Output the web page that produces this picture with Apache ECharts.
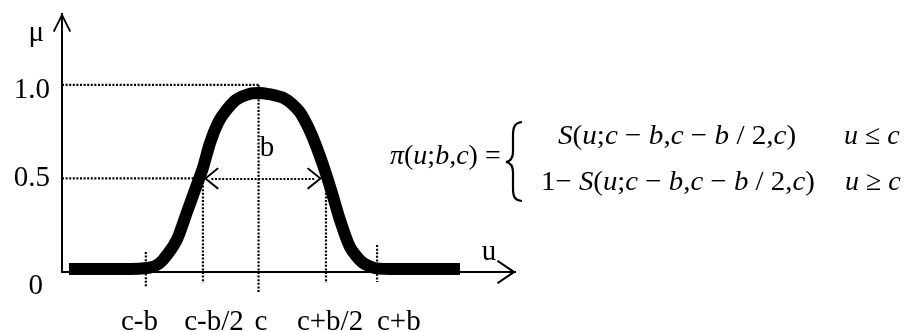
<!DOCTYPE html>
<html>
<head>
<meta charset="utf-8">
<script src="https://cdn.jsdelivr.net/npm/echarts@6/dist/echarts.min.js"></script>
<style>
  html, body { margin: 0; padding: 0; background: #fff; }
  #chart { width: 906px; height: 332px; }
</style>
</head>
<body>
<div id="chart"></div>
<script>
// Membership curve of the pi-function, u measured in units of b with c at 0
const curveU  = [-1.64, -1.11, -0.964, -0.895, -0.827, -0.708, -0.622, -0.550, -0.481, -0.420, -0.351, -0.290, -0.196,
                 -0.074, 0.003, 0.073, 0.220, 0.349, 0.420, 0.488, 0.566, 0.635, 0.704, 0.790, 0.894, 1.007, 1.223, 1.742];
const curveMu = [0.016, 0.016, 0.021, 0.032, 0.064, 0.171, 0.315, 0.438, 0.556, 0.689, 0.796, 0.855, 0.919,
                 0.952, 0.956, 0.952, 0.928, 0.860, 0.785, 0.689, 0.556, 0.422, 0.278, 0.134, 0.053, 0.021, 0.016, 0.016];

// Marked points on the u axis: c-b, c-b/2, c, c+b/2, c+b
const uTicks      = [-0.975, -0.481, 0, 0.583, 1.025];
const guideTop    = [0.107, 0.5, 1.0, 0.5, 0.144];
const guideBottom = [-0.080, -0.059, -0.112, -0.059, -0.053];
const uLabels     = ['c-b', 'c-b/2', 'c', 'c+b/2', 'c+b'];
const uLabelAt    = [-1.03, -0.386, 0.021, 0.618, 1.213];

// Membership levels on the mu axis
const muLevels = [0, 0.5, 1.0];
const muLabels = ['0', '0.5', '1.0'];

// Width b shown between the two crossings of the 0.5 level
const widthTips = [-0.473, 0.548];

const U_MIN = -1.7, U_MAX = 2.14, MU_MAX = 1.33;
const serif = '"Liberation Serif", "Times New Roman", serif';
const INK = '#000';

const vArrow = 'path://M9,0 L18,18 L16.6,19.2 L9,4 L1.4,19.2 L0,18 Z M8,0 L10,0 L10,20 L8,20 Z';
const hArrow = 'path://M12,0 L24,18 L22.6,19.2 L12,4 L1.4,19.2 L0,18 Z M11,0 L13,0 L13,20 L11,20 Z';
const openHead = 'path://M11,0 L22,13.6 L20.6,15 L11,3 L1.4,15 L0,13.6 Z';
const headInset = 0.065;

const dottedStyle = { color: '#000', width: 2.2, type: [2, 1.6] };
function dotted(points, extra) {
  return Object.assign({
    type: 'line', data: points, symbol: 'none', silent: true, clip: false,
    lineStyle: dottedStyle, z: 3, animation: false
  }, extra || {});
}

const series = [];
uTicks.forEach((u, i) => series.push(dotted([[u, guideTop[i]], [u, guideBottom[i]]])));
series.push(dotted([[U_MIN, 1.0], [uTicks[2], 1.0]]));
series.push(dotted([[U_MIN, 0.5], [widthTips[0], 0.5]], {
  markLine: {
    silent: true,
    animation: false,
    symbol: [openHead, openHead],
    symbolSize: [22, 15],
    lineStyle: dottedStyle,
    itemStyle: { color: '#000' },
    label: {
      show: true, position: 'middle', formatter: 'b', distance: 16, offset: [4, 0],
      color: INK, fontFamily: serif, fontSize: 29
    },
    emphasis: { disabled: true },
    data: [[{ coord: [widthTips[0] + headInset, 0.5] }, { coord: [widthTips[1] - headInset, 0.5] }]]
  }
}));
series.push({
  type: 'line',
  data: curveU.map((u, i) => [u, curveMu[i]]),
  smooth: 0.25,
  symbol: 'none',
  silent: true,
  animation: false,
  lineStyle: { color: INK, width: 12, join: 'round' },
  z: 5
});

const mathRich = {
  i: { fontFamily: serif, fontSize: 28, fontStyle: 'italic', fill: INK },
  r: { fontFamily: serif, fontSize: 28, fill: INK }
};
function formulaText(x, y, text, sx) {
  return {
    type: 'text', x: x, y: y, scaleX: sx, silent: true,
    style: {
      text: text, rich: mathRich, fill: INK,
      fontFamily: serif, fontSize: 28,
      align: 'left', textAlign: 'left', verticalAlign: 'middle', textVerticalAlign: 'middle'
    }
  };
}
const sArg = '{i|S}{r|(}{i|u}{r|;}{i|c}{r| − }{i|b}{r|,}{i|c}{r| − }{i|b}{r| / 2,}{i|c}{r|)}';

// Left brace of the piecewise definition
const braceStyle = { stroke: INK, lineWidth: 2.2, fill: null };
function braceCurve(x1, y1, cx1, cy1, cx2, cy2, x2, y2) {
  return { type: 'bezierCurve', silent: true,
           shape: { x1: x1, y1: y1, cpx1: cx1, cpy1: cy1, cpx2: cx2, cpy2: cy2, x2: x2, y2: y2 },
           style: braceStyle };
}
function braceLine(x1, y1, x2, y2) {
  return { type: 'line', silent: true, shape: { x1: x1, y1: y1, x2: x2, y2: y2 }, style: braceStyle };
}

const option = {
  backgroundColor: '#fff',
  animation: false,
  grid: { left: 62, top: 23, width: 444, height: 249, containLabel: false, outerBoundsMode: 'none' },
  xAxis: {
    type: 'value', min: U_MIN, max: U_MAX,
    name: '{u|u}', nameLocation: 'end', nameGap: -17,
    nameTextStyle: {
      align: 'center', verticalAlign: 'middle',
      rich: { u: { fontFamily: serif, fontSize: 29, color: INK, padding: [0, 0, 40, 0] } }
    },
    axisLine: { show: true, onZero: false, lineStyle: { color: INK, width: 2 }, symbol: ['none', hArrow], symbolSize: [24, 20] },
    axisTick: { show: false },
    splitLine: { show: false },
    axisLabel: {
      customValues: uLabelAt,
      margin: 36,
      color: INK, fontFamily: serif, fontSize: 29,
      formatter: v => {
        let k = 0;
        uLabelAt.forEach((p, i) => { if (Math.abs(p - v) < Math.abs(uLabelAt[k] - v)) k = i; });
        return uLabels[k];
      }
    }
  },
  yAxis: {
    type: 'value', min: 0, max: MU_MAX,
    name: 'μ', nameLocation: 'end', nameGap: -10,
    nameTextStyle: { fontFamily: serif, fontSize: 29, color: INK, align: 'right', verticalAlign: 'middle', padding: [0, 18, 0, 0] },
    axisLine: { show: true, onZero: false, lineStyle: { color: INK, width: 2 }, symbol: ['none', vArrow], symbolSize: [18, 20] },
    axisTick: { show: false },
    splitLine: { show: false },
    axisLabel: {
      customValues: muLevels,
      margin: 12,
      color: INK, fontFamily: serif, fontSize: 29,
      formatter: v => {
        const k = muLevels.indexOf(v);
        const t = muLabels[k];
        if (v === 0) return '{low|' + t + '}';
        if (v === 1) return '{top|' + t + '}';
        return '{mid|' + t + '}';
      },
      rich: {
        low: { fontFamily: serif, fontSize: 29, color: INK, padding: [28, 7, 0, 0] },
        top: { fontFamily: serif, fontSize: 29, color: INK, padding: [12, 0, 0, 0] },
        mid: { fontFamily: serif, fontSize: 29, color: INK }
      }
    }
  },
  graphic: [
    formulaText(390, 157, '{i|π}{r|(}{i|u}{r|;}{i|b}{r|,}{i|c}{r|) =}', 1.0),
    braceCurve(522, 122, 514, 123, 513, 128, 513, 136),
    braceLine(513, 136, 513, 152),
    braceCurve(513, 152, 513, 158, 511, 161, 506, 162),
    braceCurve(506, 162, 511, 163, 513, 166, 513, 172),
    braceLine(513, 172, 513, 188),
    braceCurve(513, 188, 513, 196, 514, 200, 522, 201),
    formulaText(558, 137, sArg, 1.04),
    formulaText(844, 137, '{i|u}{r| ≤ }{i|c}', 1.0),
    formulaText(541, 183, '{r|1− }' + sArg, 1.03),
    formulaText(845, 183, '{i|u}{r| ≥ }{i|c}', 1.0)
  ],
  series: series
};

const chart = echarts.init(document.getElementById('chart'), null, { renderer: 'canvas' });
chart.setOption(option);
</script>
</body>
</html>
